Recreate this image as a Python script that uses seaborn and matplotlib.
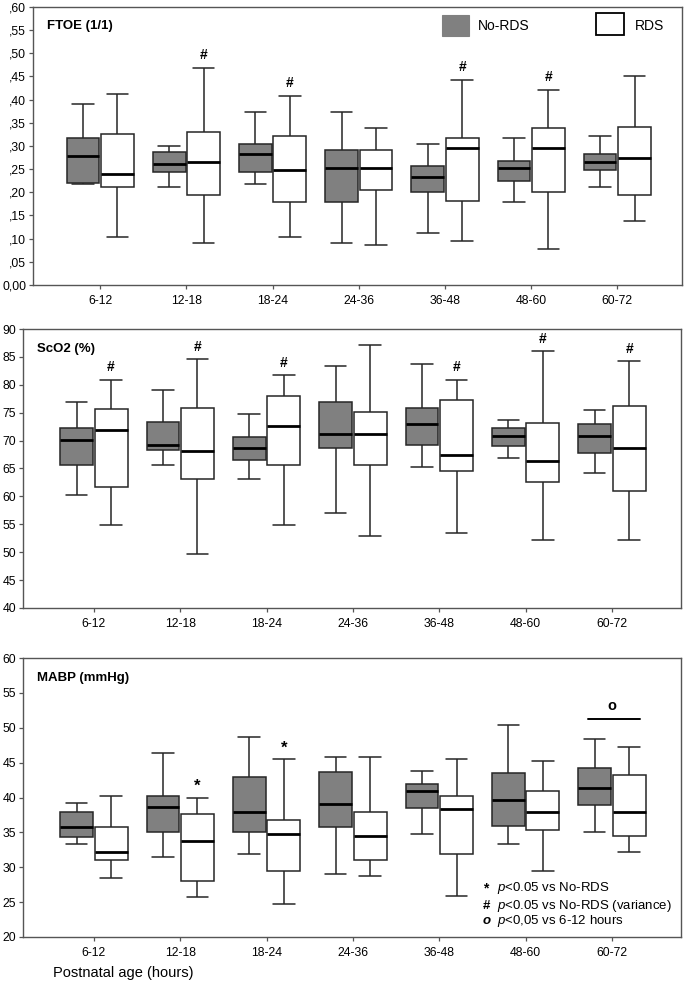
import numpy as np
import pandas as pd
import matplotlib
matplotlib.use("Agg")
import matplotlib.pyplot as plt
import seaborn as sns
from matplotlib.patches import Rectangle

# ---------------- data ----------------
categories = ["6-12", "12-18", "18-24", "24-36", "36-48", "48-60", "60-72"]
groups = ["No-RDS", "RDS"]

# five-number summaries per category: [low whisker, Q1, median, Q3, high whisker]
ftoe_no_rds = [
    [0.218, 0.221, 0.278, 0.317, 0.391],
    [0.212, 0.243, 0.261, 0.286, 0.300],
    [0.218, 0.243, 0.283, 0.304, 0.373],
    [0.090, 0.179, 0.252, 0.291, 0.373],
    [0.113, 0.200, 0.234, 0.256, 0.304],
    [0.179, 0.225, 0.253, 0.268, 0.317],
    [0.212, 0.248, 0.265, 0.282, 0.322],
]
ftoe_rds = [
    [0.104, 0.212, 0.239, 0.326, 0.413],
    [0.090, 0.195, 0.265, 0.330, 0.469],
    [0.104, 0.179, 0.248, 0.322, 0.408],
    [0.086, 0.204, 0.252, 0.291, 0.339],
    [0.095, 0.182, 0.296, 0.317, 0.443],
    [0.078, 0.200, 0.296, 0.339, 0.421],
    [0.139, 0.195, 0.273, 0.342, 0.451],
]
sco2_no_rds = [
    [60.3, 65.7, 70.1, 72.3, 76.9],
    [65.7, 68.3, 69.3, 73.3, 79.1],
    [63.2, 66.5, 68.6, 70.7, 74.7],
    [57.1, 68.6, 71.1, 76.9, 83.4],
    [65.3, 69.3, 72.9, 75.9, 83.8],
    [66.8, 69.0, 70.8, 72.2, 73.7],
    [64.2, 67.8, 70.8, 72.9, 75.5],
]
sco2_rds = [
    [54.8, 61.7, 71.9, 75.6, 80.9],
    [49.7, 63.2, 68.2, 75.9, 84.6],
    [54.8, 65.7, 72.6, 78.0, 81.7],
    [52.9, 65.7, 71.1, 75.1, 87.1],
    [53.4, 64.5, 67.5, 77.2, 80.9],
    [52.2, 62.5, 66.4, 73.2, 86.0],
    [52.2, 61.0, 68.6, 76.2, 84.2],
]
mabp_no_rds = [
    [33.3, 34.3, 35.7, 37.9, 39.2],
    [31.4, 35.0, 38.6, 40.2, 46.4],
    [31.9, 35.0, 37.9, 42.9, 48.7],
    [29.0, 35.7, 39.1, 43.7, 45.8],
    [34.7, 38.5, 40.9, 42.0, 43.8],
    [33.4, 35.9, 39.7, 43.5, 50.4],
    [35.0, 38.9, 41.4, 44.3, 48.4],
]
mabp_rds = [
    [28.4, 31.0, 32.2, 35.7, 40.2],
    [25.8, 28.1, 33.7, 37.6, 40.0],
    [24.7, 29.5, 34.7, 36.8, 45.5],
    [28.7, 31.0, 34.5, 37.9, 45.8],
    [25.9, 31.9, 38.3, 40.2, 45.5],
    [29.5, 35.4, 37.9, 40.9, 45.2],
    [32.2, 34.5, 37.9, 43.2, 47.2],
]

ftoe_ticks = [0.00, 0.05, 0.10, 0.15, 0.20, 0.25, 0.30, 0.35, 0.40, 0.45, 0.50, 0.55, 0.60]
ftoe_ticklabels = ["0,00", ",05", ",10", ",15", ",20", ",25", ",30", ",35", ",40", ",45", ",50", ",55", ",60"]
sco2_ticks = [40, 45, 50, 55, 60, 65, 70, 75, 80, 85, 90]
mabp_ticks = [20, 25, 30, 35, 40, 45, 50, 55, 60]

ftoe_hash = ["12-18", "18-24", "36-48", "48-60"]          # '#' above RDS
sco2_hash = ["6-12", "12-18", "18-24", "36-48", "48-60", "60-72"]
mabp_star = ["12-18", "18-24"]                              # '*' above RDS
mabp_circle = "60-72"                                       # 'o' over both boxes
mabp_circle_level = 51.3

footnotes = [("*", "$p$<0.05 vs No-RDS"),
             ("#", "$p$<0.05 vs No-RDS (variance)"),
             ("o", "$p$<0,05 vs 6-12 hours")]

# ---------------- style ----------------
sns.set_theme(style="white")
plt.rcParams["font.family"] = ["Liberation Sans", "DejaVu Sans"]
plt.rcParams["mathtext.fontset"] = "custom"
plt.rcParams["mathtext.it"] = "Liberation Sans:italic"
plt.rcParams["mathtext.rm"] = "Liberation Sans"
plt.rcParams["text.color"] = "black"
plt.rcParams["xtick.color"] = "black"
plt.rcParams["ytick.color"] = "black"

GRAY = "#808080"
EDGE = "#262626"
SPINE = "#555555"
palette = {"No-RDS": GRAY, "RDS": "white"}


def long_frame(no, rds):
    rows = []
    for i, cat in enumerate(categories):
        for g, arr in zip(groups, (no, rds)):
            for v in arr[i]:
                rows.append({"age": cat, "group": g, "value": v})
    return pd.DataFrame(rows)


def draw_panel(ax, no, rds, ylim, yticks, yticklabels, title, xlim):
    df = long_frame(no, rds)
    sns.boxplot(data=df, x="age", y="value", hue="group", order=categories,
                hue_order=groups, palette=palette, saturation=1, width=0.8,
                gap=0.05, whis=(0, 100), linecolor=EDGE, linewidth=1.1,
                showfliers=False, capwidths=0.25,
                medianprops=dict(color="black", linewidth=2.0),
                legend=False, ax=ax)
    ax.set_ylim(*ylim)
    ax.set_xlim(*xlim)
    ax.set_yticks(yticks)
    ax.set_yticklabels(yticklabels)
    ax.set_xlabel("")
    ax.set_ylabel("")
    for s in ax.spines.values():
        s.set_visible(True)
        s.set_color(SPINE)
        s.set_linewidth(1.0)
    ax.tick_params(axis="both", labelsize=8.8, length=3, width=0.9,
                   color=SPINE, labelcolor="black", pad=2, direction="out",
                   bottom=True, left=True)
    ax.tick_params(axis="x", pad=4)
    ax.text(0.022, 0.93, title, transform=ax.transAxes, fontsize=9.5,
            fontweight="bold", va="center", ha="left")


fig = plt.figure(figsize=(6.85, 9.83), dpi=100)
ax1 = fig.add_axes([0.0482, 0.7101, 0.9474, 0.2828])
ax2 = fig.add_axes([0.0336, 0.3815, 0.9606, 0.2838])
ax3 = fig.add_axes([0.0336, 0.0468, 0.9606, 0.2838])

draw_panel(ax1, ftoe_no_rds, ftoe_rds, (0, 0.6), ftoe_ticks, ftoe_ticklabels,
           "FTOE (1/1)", (-0.78, 6.75))
draw_panel(ax2, sco2_no_rds, sco2_rds, (40, 90), sco2_ticks,
           [str(t) for t in sco2_ticks], "ScO2 (%)", (-0.82, 6.80))
draw_panel(ax3, mabp_no_rds, mabp_rds, (20, 60), mabp_ticks,
           [str(t) for t in mabp_ticks], "MABP (mmHg)", (-0.82, 6.80))

# significance markers
def mark(ax, cats, rds, sym, yoff, size=10):
    for c in cats:
        i = categories.index(c)
        ax.text(i + 0.2, rds[i][4] + yoff, sym, ha="center", va="bottom",
                fontsize=size, fontweight="bold")

mark(ax1, ftoe_hash, ftoe_rds, "#", 0.012)
mark(ax2, sco2_hash, sco2_rds, "#", 1.0)
mark(ax3, mabp_star, mabp_rds, "*", 0.5, size=12)

ic = categories.index(mabp_circle)
ax3.plot([ic - 0.28, ic + 0.33], [mabp_circle_level] * 2, color="black", lw=1.4)
ax3.text(ic + 0.0, mabp_circle_level + 0.8, "o", ha="center", va="bottom",
         fontsize=10.5, fontweight="bold")

# legend in top panel
ax1.add_patch(Rectangle((0.630, 0.896), 0.042, 0.075, transform=ax1.transAxes,
                        facecolor=GRAY, edgecolor=GRAY, lw=0.8, clip_on=False))
ax1.text(0.686, 0.932, "No-RDS", transform=ax1.transAxes, fontsize=10,
         va="center", ha="left")
ax1.add_patch(Rectangle((0.867, 0.899), 0.044, 0.079, transform=ax1.transAxes,
                        facecolor="white", edgecolor="black", lw=1.3, clip_on=False))
ax1.text(0.928, 0.932, "RDS", transform=ax1.transAxes, fontsize=10,
         va="center", ha="left")

# footnotes in bottom panel
for (sym, txt), y in zip(footnotes, [0.175, 0.112, 0.056]):
    style = "italic" if sym == "o" else "normal"
    ax3.text(0.699, y, sym, transform=ax3.transAxes, fontsize=10 if sym == "*" else 9.5,
             fontweight="bold", fontstyle=style, va="center", ha="left")
    ax3.text(0.720, y, txt, transform=ax3.transAxes, fontsize=9.5,
             va="center", ha="left")

fig.text(0.0774, 0.0102, "Postnatal age (hours)", fontsize=10.5, ha="left",
         va="center")

fig.savefig("out.png", dpi=100)
